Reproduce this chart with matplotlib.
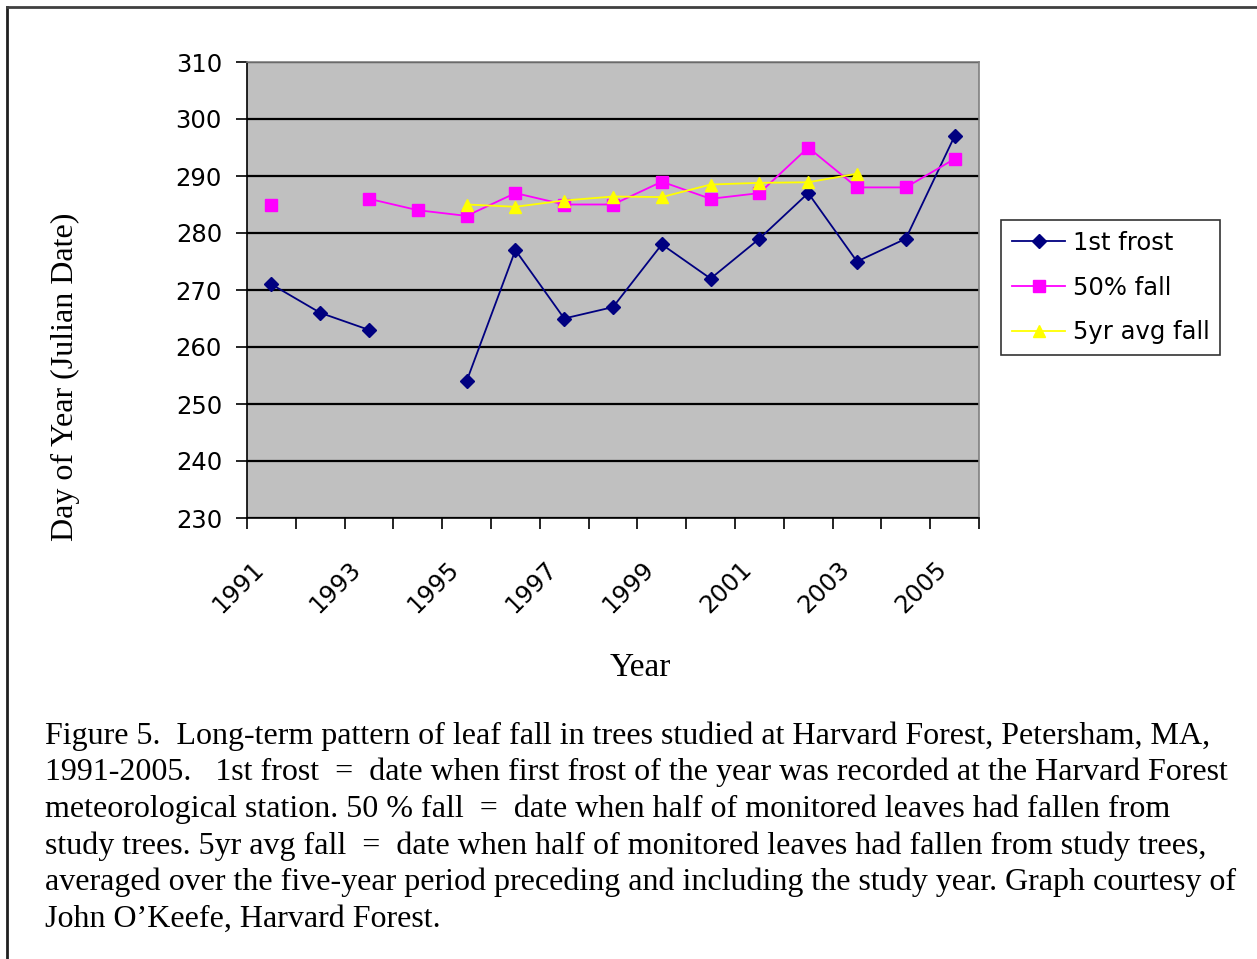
import numpy as np
import matplotlib
matplotlib.use('Agg')
import matplotlib.pyplot as plt
import matplotlib.transforms as mtransforms
from matplotlib.lines import Line2D

# data
years = list(range(1991, 2006))
first_frost = [271, 266, 263, np.nan, 254, 277, 265, 267, 278, 272, 279, 287, 275, 279, 297]
fall_50 = [285, np.nan, 286, 284, 283, 287, 285, 285, 289, 286, 287, 295, 288, 288, 293]
avg_5yr = [np.nan, np.nan, np.nan, np.nan, 285, 284.6, 285.7, 286.4, 286.3, 288.5, 288.8, 288.9, 290.4, np.nan, np.nan]

caption = [
    "Figure 5.  Long-term pattern of leaf fall in trees studied at Harvard Forest, Petersham, MA,",
    "1991-2005.   1st frost  =  date when first frost of the year was recorded at the Harvard Forest",
    "meteorological station. 50 % fall  =  date when half of monitored leaves had fallen from",
    "study trees. 5yr avg fall  =  date when half of monitored leaves had fallen from study trees,",
    "averaged over the five-year period preceding and including the study year. Graph courtesy of",
    "John O\u2019Keefe, Harvard Forest.",
]

W, H = 1257, 959
fig = plt.figure(figsize=(W / 100, H / 100), dpi=100)
fig.patch.set_facecolor('white')

# plot area in pixel coords of the reference
l, r, t, b = 247, 979, 62, 518
ax = fig.add_axes([l / W, 1 - b / H, (r - l) / W, (b - t) / H])
ax.set_facecolor('#C0C0C0')

x = np.arange(len(years)) + 0.5
ax.plot(x, first_frost, color='#000080', lw=1.3, marker='D', ms=7, mec='#000080', mfc='#000080', label='1st frost', zorder=3)
ax.plot(x, fall_50, color='#FF00FF', lw=1.3, marker='s', ms=8, mec='#FF00FF', mfc='#FF00FF', label='50% fall', zorder=3)
ax.plot(x, avg_5yr, color='#FFFF00', lw=1.3, marker='^', ms=9, mec='#FFFF00', mfc='#FFFF00', label='5yr avg fall', zorder=4)

ax.set_xlim(0, len(years))
ax.set_ylim(230, 310)
ax.set_yticks(range(230, 311, 10))
ax.yaxis.grid(True, color='black', lw=1.6)
ax.set_axisbelow(True)
ax.tick_params(axis='y', direction='out', length=8, width=1.2, labelsize=17.5, pad=10)

ax.set_xticks(range(len(years) + 1))
ax.set_xticklabels([])
ax.tick_params(axis='x', which='major', direction='out', length=8, width=1.2)
ax.set_xticks(np.arange(0, len(years), 2) + 0.5, minor=True)
ax.set_xticklabels([str(y) for y in years[::2]], minor=True, rotation=45,
                   ha='right', va='top', rotation_mode='anchor', fontsize=17.5)
ax.tick_params(axis='x', which='minor', length=0, pad=28)
shift = mtransforms.ScaledTranslation(-0.2, 0, fig.dpi_scale_trans)
for lab in ax.get_xticklabels(minor=True):
    lab.set_transform(lab.get_transform() + shift)

for s in ['left', 'bottom']:
    ax.spines[s].set_color('black')
    ax.spines[s].set_linewidth(1.2)
for s in ['top', 'right']:
    ax.spines[s].set_color('#808080')
    ax.spines[s].set_linewidth(1.2)

serif = ['Liberation Serif', 'DejaVu Serif']
fig.text(65 / W, 1 - 377 / H, 'Day of Year (Julian Date)', rotation=90, ha='center', va='center',
         fontsize=23, family=serif)
fig.text(640 / W, 1 - 668 / H, 'Year', ha='center', va='center', fontsize=24, family=serif)

leg = ax.legend(loc='upper left', bbox_to_anchor=((1001 - l) / (r - l), (b - 220) / (b - t)),
                frameon=True, fancybox=False, fontsize=17.5, handlelength=2.2, borderpad=0.45,
                labelspacing=0.85, handletextpad=0.3, borderaxespad=0)
leg.get_frame().set_edgecolor('black')
leg.get_frame().set_linewidth(1.2)

y0 = 736
for i, line in enumerate(caption):
    fig.text(45 / W, 1 - (y0 + i * 36.6) / H, line, ha='left', va='center', fontsize=23, family=serif)

# outer frame: left and top edges
fig.add_artist(Line2D([7 / W, 7 / W], [0, 1 - 7 / H], color='#202020', lw=2))
fig.add_artist(Line2D([7 / W, 1], [1 - 7 / H, 1 - 7 / H], color='#404040', lw=2))

fig.savefig('out.png', dpi=100)
